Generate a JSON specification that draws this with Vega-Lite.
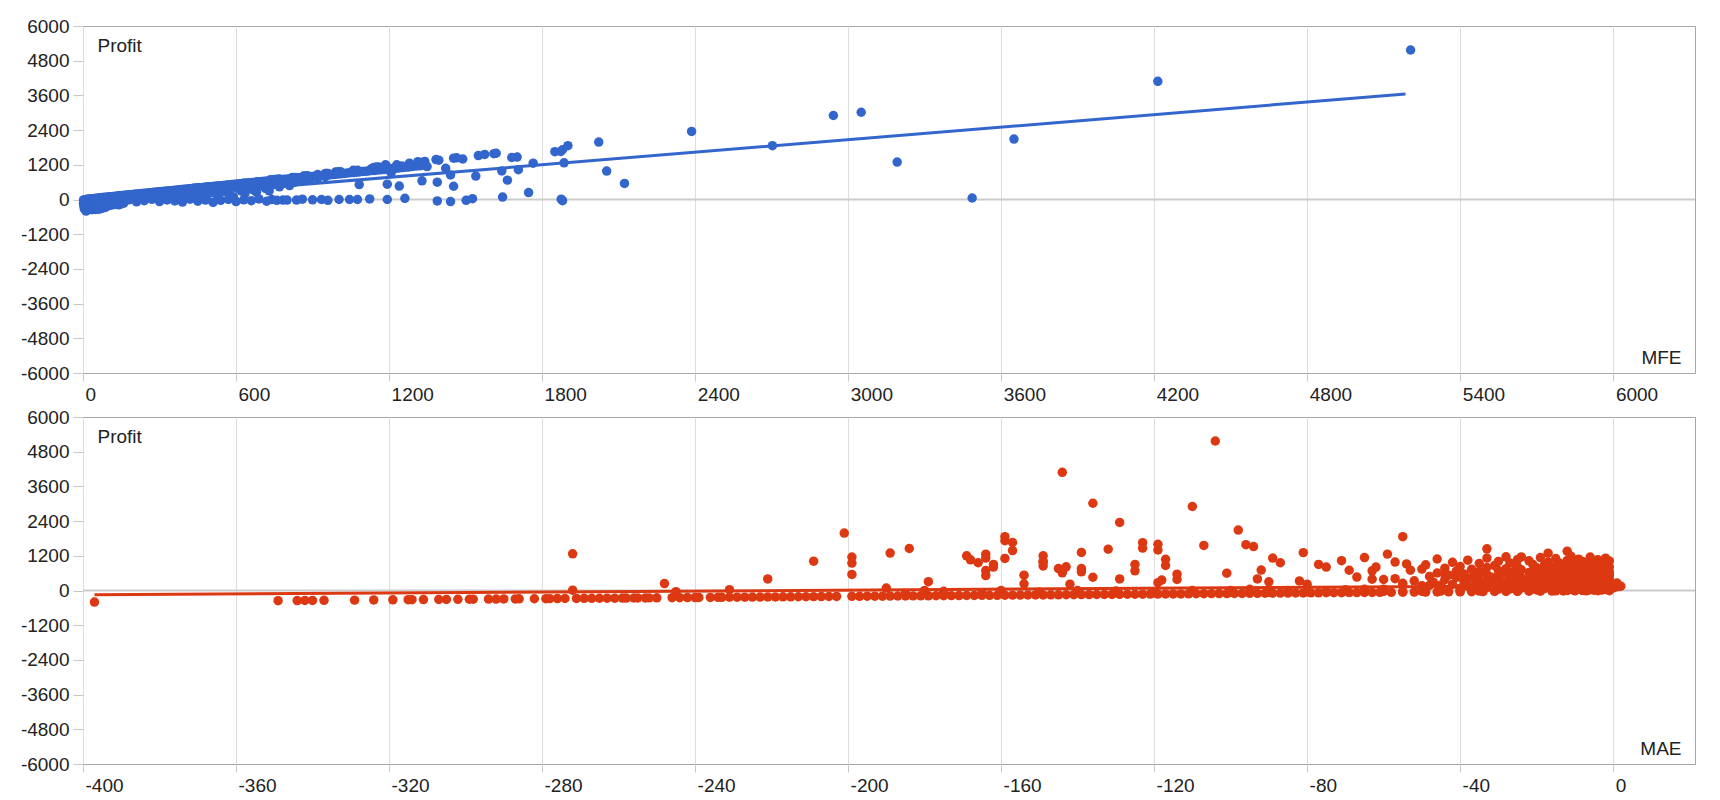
{
"$schema":"https://vega.github.io/schema/vega-lite/v6.json",
"background":"white",
"padding":{"left":19,"top":16,"right":12,"bottom":4},
"bounds":"flush",
"spacing":44,
"datasets":{
"trades":[
{"MFE":5205,"MAE":-104,"Profit":5170},{"MFE":4214,"MAE":-144,"Profit":4087},{"MFE":3051,"MAE":-136,"Profit":3018},{"MFE":2942,"MAE":-110,"Profit":2905},{"MFE":2386,"MAE":-129,"Profit":2355},{"MFE":3650,"MAE":-98,"Profit":2090},{"MFE":2022,"MAE":-201,"Profit":1985},{"MFE":1901,"MAE":-159,"Profit":1860},{"MFE":2703,"MAE":-55,"Profit":1860},{"MFE":1873,"MAE":-157,"Profit":1660},{"MFE":1620,"MAE":-119,"Profit":1600},{"MFE":1611,"MAE":-96,"Profit":1585},{"MFE":1550,"MAE":-94,"Profit":1520},{"MFE":1702,"MAE":-123,"Profit":1468},{"MFE":1681,"MAE":-184,"Profit":1452},{"MFE":1453,"MAE":-132,"Profit":1430},{"MFE":1384,"MAE":-157,"Profit":1380},{"MFE":1489,"MAE":-119,"Profit":1400},{"MFE":3192,"MAE":-189,"Profit":1295},{"MFE":1886,"MAE":-272,"Profit":1270},{"MFE":1313,"MAE":-81,"Profit":1310},{"MFE":1765,"MAE":-164,"Profit":1255},{"MFE":1280,"MAE":-59,"Profit":1258},{"MFE":1186,"MAE":-149,"Profit":1200},{"MFE":1349,"MAE":-65,"Profit":1140},{"MFE":1422,"MAE":-117,"Profit":1080},{"MFE":1130,"MAE":-168,"Profit":1060},{"MFE":1077,"MAE":-149,"Profit":1010},{"MFE":1060,"MAE":-209,"Profit":1015},{"MFE":1707,"MAE":-71,"Profit":1030},{"MFE":1642,"MAE":-149,"Profit":988},{"MFE":2053,"MAE":-57,"Profit":982},{"MFE":1208,"MAE":-54,"Profit":918},{"MFE":1441,"MAE":-149,"Profit":850},{"MFE":1540,"MAE":-162,"Profit":810},{"MFE":1664,"MAE":-144,"Profit":670},{"MFE":1329,"MAE":-139,"Profit":645},{"MFE":1389,"MAE":-101,"Profit":598},{"MFE":2123,"MAE":-199,"Profit":555},{"MFE":1193,"MAE":-154,"Profit":530},{"MFE":1083,"MAE":-164,"Profit":515},{"MFE":1240,"MAE":-67,"Profit":465},{"MFE":1453,"MAE":-136,"Profit":458},{"MFE":1747,"MAE":-248,"Profit":238},
{"MFE":1850,"MAE":-123,"Profit":1654},{"MFE":1880,"MAE":-159,"Profit":1720},{"MFE":1575,"MAE":-107,"Profit":1560},{"MFE":1340,"MAE":-139,"Profit":1315},{"MFE":1230,"MAE":-169,"Profit":1200},{"MFE":1190,"MAE":-199,"Profit":1155},{"MFE":1160,"MAE":-164,"Profit":1120},{"MFE":1150,"MAE":-89,"Profit":1120},{"MFE":1140,"MAE":-159,"Profit":1110},{"MFE":1000,"MAE":-87,"Profit":960},{"MFE":1010,"MAE":-166,"Profit":960},{"MFE":990,"MAE":-199,"Profit":950},{"MFE":960,"MAE":-162,"Profit":900},{"MFE":950,"MAE":-77,"Profit":900},{"MFE":955,"MAE":-125,"Profit":900},{"MFE":920,"MAE":-117,"Profit":865},{"MFE":880,"MAE":-143,"Profit":820},{"MFE":870,"MAE":-75,"Profit":810},{"MFE":865,"MAE":-62,"Profit":810},{"MFE":820,"MAE":-145,"Profit":760},{"MFE":830,"MAE":-139,"Profit":760},{"MFE":770,"MAE":-92,"Profit":705},{"MFE":760,"MAE":-69,"Profit":700},{"MFE":750,"MAE":-164,"Profit":690},{"MFE":740,"MAE":-125,"Profit":680},{"MFE":735,"MAE":-63,"Profit":680},{"MFE":680,"MAE":-144,"Profit":610},{"MFE":630,"MAE":-114,"Profit":565},{"MFE":460,"MAE":-129,"Profit":400},{"MFE":450,"MAE":-93,"Profit":400},{"MFE":470,"MAE":-221,"Profit":400},{"MFE":440,"MAE":-63,"Profit":390},{"MFE":430,"MAE":-114,"Profit":380},{"MFE":420,"MAE":-118,"Profit":360},{"MFE":380,"MAE":-82,"Profit":330},{"MFE":350,"MAE":-179,"Profit":305},{"MFE":320,"MAE":-119,"Profit":270},{"MFE":280,"MAE":-154,"Profit":230},{"MFE":270,"MAE":-142,"Profit":220},
{"MFE":1465,"MAE":-33,"Profit":1440},{"MFE":1330,"MAE":-17,"Profit":1290},{"MFE":1395,"MAE":-12,"Profit":1360},{"MFE":1250,"MAE":-24,"Profit":1160},
{"MFE":1875,"MAE":-272,"Profit":10},{"MFE":1880,"MAE":-245,"Profit":-40},{"MFE":1527,"MAE":-231,"Profit":30},{"MFE":1645,"MAE":-190,"Profit":85},{"MFE":1502,"MAE":-175,"Profit":-30},{"MFE":1441,"MAE":-150,"Profit":-70},{"MFE":1389,"MAE":-120,"Profit":-50},{"MFE":1262,"MAE":-95,"Profit":40},{"MFE":1193,"MAE":-180,"Profit":0},{"MFE":1124,"MAE":-60,"Profit":20},{"MFE":1076,"MAE":-140,"Profit":0},{"MFE":1045,"MAE":-110,"Profit":0},{"MFE":1004,"MAE":-85,"Profit":0},{"MFE":935,"MAE":-160,"Profit":0},{"MFE":900,"MAE":-45,"Profit":-10},{"MFE":837,"MAE":-130,"Profit":-20},{"MFE":784,"MAE":-70,"Profit":-20},{"MFE":740,"MAE":-100,"Profit":0},{"MFE":3486,"MAE":-35,"Profit":52},
{"MFE":120,"MAE":-40,"Profit":-30},{"MFE":150,"MAE":-90,"Profit":-60},{"MFE":180,"MAE":-15,"Profit":-10},{"MFE":210,"MAE":-120,"Profit":-80},{"MFE":240,"MAE":-55,"Profit":-40},{"MFE":270,"MAE":-8,"Profit":5},{"MFE":300,"MAE":-140,"Profit":-70},{"MFE":330,"MAE":-25,"Profit":-15},{"MFE":360,"MAE":-75,"Profit":-50},{"MFE":390,"MAE":-165,"Profit":-90},{"MFE":420,"MAE":-5,"Profit":10},{"MFE":450,"MAE":-100,"Profit":-60},{"MFE":480,"MAE":-35,"Profit":-20},{"MFE":510,"MAE":-185,"Profit":-100},{"MFE":540,"MAE":-60,"Profit":-30},{"MFE":570,"MAE":-12,"Profit":0},{"MFE":600,"MAE":-130,"Profit":-70},{"MFE":630,"MAE":-45,"Profit":-10},{"MFE":660,"MAE":-80,"Profit":-40},{"MFE":690,"MAE":-20,"Profit":20},{"MFE":720,"MAE":-150,"Profit":-60},{"MFE":760,"MAE":-50,"Profit":-30},{"MFE":800,"MAE":-110,"Profit":-20},{"MFE":860,"MAE":-28,"Profit":10},{"MFE":960,"MAE":-75,"Profit":-30},
{"MFE":12,"MAE":-397,"Profit":-400},{"MFE":35,"MAE":-349,"Profit":-352},{"MFE":20,"MAE":-344,"Profit":-348},{"MFE":48,"MAE":-342,"Profit":-345},{"MFE":8,"MAE":-340,"Profit":-343},{"MFE":60,"MAE":-337,"Profit":-341},{"MFE":25,"MAE":-329,"Profit":-333},{"MFE":15,"MAE":-324,"Profit":-327},{"MFE":40,"MAE":-319,"Profit":-322},{"MFE":70,"MAE":-315,"Profit":-318},{"MFE":5,"MAE":-314,"Profit":-317},{"MFE":30,"MAE":-311,"Profit":-314},{"MFE":55,"MAE":-307,"Profit":-311},{"MFE":18,"MAE":-305,"Profit":-308},{"MFE":42,"MAE":-302,"Profit":-305},{"MFE":10,"MAE":-299,"Profit":-302},{"MFE":65,"MAE":-298,"Profit":-301},{"MFE":28,"MAE":-294,"Profit":-297},{"MFE":50,"MAE":-292,"Profit":-296},{"MFE":14,"MAE":-290,"Profit":-293},{"MFE":36,"MAE":-287,"Profit":-290},{"MFE":80,"MAE":-286,"Profit":-289},{"MFE":22,"MAE":-282,"Profit":-285},{"MFE":45,"MAE":-279,"Profit":-282},{"MFE":9,"MAE":-278,"Profit":-281},{"MFE":58,"MAE":-276,"Profit":-279},{"MFE":33,"MAE":-274,"Profit":-277},{"MFE":16,"MAE":-271,"Profit":-274},{"MFE":75,"MAE":-269,"Profit":-272},{"MFE":27,"MAE":-267,"Profit":-270},{"MFE":44,"MAE":-265,"Profit":-268},{"MFE":6,"MAE":-263,"Profit":-266},{"MFE":52,"MAE":-261,"Profit":-264},{"MFE":38,"MAE":-259,"Profit":-262},{"MFE":90,"MAE":-258,"Profit":-261},{"MFE":19,"MAE":-256,"Profit":-259},{"MFE":63,"MAE":-255,"Profit":-258},{"MFE":31,"MAE":-253,"Profit":-256},{"MFE":11,"MAE":-252,"Profit":-255},{"MFE":47,"MAE":-250,"Profit":-253},{"MFE":24,"MAE":-246,"Profit":-249},{"MFE":68,"MAE":-244,"Profit":-247},{"MFE":37,"MAE":-242,"Profit":-245},{"MFE":13,"MAE":-240,"Profit":-243},{"MFE":56,"MAE":-239,"Profit":-242},{"MFE":29,"MAE":-236,"Profit":-239},{"MFE":85,"MAE":-234,"Profit":-237},{"MFE":41,"MAE":-233,"Profit":-236},{"MFE":7,"MAE":-231,"Profit":-234},{"MFE":50,"MAE":-229,"Profit":-232},{"MFE":23,"MAE":-227,"Profit":-230},{"MFE":72,"MAE":-225,"Profit":-228},{"MFE":34,"MAE":-223,"Profit":-226},{"MFE":17,"MAE":-221,"Profit":-224},{"MFE":61,"MAE":-219,"Profit":-222},{"MFE":26,"MAE":-217,"Profit":-220},{"MFE":95,"MAE":-215,"Profit":-218},{"MFE":39,"MAE":-213,"Profit":-216},{"MFE":4,"MAE":-211,"Profit":-214},{"MFE":53,"MAE":-209,"Profit":-212},{"MFE":21,"MAE":-207,"Profit":-210},{"MFE":78,"MAE":-205,"Profit":-208},{"MFE":32,"MAE":-203,"Profit":-206},
{"MFE":25,"MAE":-199,"Profit":-202},{"MFE":60,"MAE":-197,"Profit":-201},{"MFE":10,"MAE":-195,"Profit":-198},{"MFE":110,"MAE":-193,"Profit":-196},{"MFE":40,"MAE":-191,"Profit":-195},{"MFE":5,"MAE":-189,"Profit":-192},{"MFE":75,"MAE":-187,"Profit":-190},{"MFE":30,"MAE":-185,"Profit":-189},{"MFE":140,"MAE":-183,"Profit":-186},{"MFE":15,"MAE":-181,"Profit":-184},{"MFE":50,"MAE":-179,"Profit":-183},{"MFE":90,"MAE":-177,"Profit":-180},{"MFE":8,"MAE":-175,"Profit":-178},{"MFE":35,"MAE":-173,"Profit":-177},{"MFE":120,"MAE":-171,"Profit":-174},{"MFE":20,"MAE":-169,"Profit":-172},{"MFE":65,"MAE":-167,"Profit":-171},{"MFE":3,"MAE":-165,"Profit":-168},{"MFE":45,"MAE":-163,"Profit":-166},{"MFE":100,"MAE":-161,"Profit":-165},{"MFE":12,"MAE":-159,"Profit":-162},{"MFE":80,"MAE":-157,"Profit":-160},{"MFE":28,"MAE":-155,"Profit":-159},{"MFE":150,"MAE":-153,"Profit":-156},{"MFE":6,"MAE":-151,"Profit":-154},{"MFE":55,"MAE":-149,"Profit":-153},{"MFE":95,"MAE":-147,"Profit":-150},{"MFE":18,"MAE":-145,"Profit":-148},{"MFE":38,"MAE":-143,"Profit":-147},{"MFE":130,"MAE":-141,"Profit":-144},{"MFE":9,"MAE":-139,"Profit":-142},{"MFE":70,"MAE":-137,"Profit":-141},{"MFE":24,"MAE":-135,"Profit":-138},{"MFE":105,"MAE":-133,"Profit":-136},{"MFE":2,"MAE":-131,"Profit":-135},{"MFE":48,"MAE":-129,"Profit":-132},{"MFE":85,"MAE":-127,"Profit":-130},{"MFE":14,"MAE":-125,"Profit":-129},{"MFE":33,"MAE":-123,"Profit":-126},{"MFE":160,"MAE":-121,"Profit":-124},{"MFE":7,"MAE":-119,"Profit":-123},{"MFE":58,"MAE":-117,"Profit":-120},{"MFE":26,"MAE":-115,"Profit":-118},{"MFE":115,"MAE":-113,"Profit":-117},{"MFE":4,"MAE":-111,"Profit":-114},{"MFE":42,"MAE":-109,"Profit":-112},{"MFE":78,"MAE":-107,"Profit":-111},{"MFE":16,"MAE":-105,"Profit":-108},{"MFE":36,"MAE":-103,"Profit":-106},{"MFE":125,"MAE":-101,"Profit":-105},{"MFE":11,"MAE":-99,"Profit":-102},{"MFE":62,"MAE":-97,"Profit":-100},{"MFE":22,"MAE":-95,"Profit":-99},{"MFE":98,"MAE":-93,"Profit":-96},{"MFE":5,"MAE":-91,"Profit":-94},{"MFE":46,"MAE":-89,"Profit":-93},{"MFE":82,"MAE":-87,"Profit":-90},{"MFE":19,"MAE":-85,"Profit":-88},{"MFE":31,"MAE":-83,"Profit":-87},{"MFE":135,"MAE":-81,"Profit":-84},{"MFE":8,"MAE":-79,"Profit":-82},{"MFE":52,"MAE":-77,"Profit":-81},{"MFE":27,"MAE":-75,"Profit":-78},{"MFE":108,"MAE":-73,"Profit":-76},{"MFE":3,"MAE":-71,"Profit":-75},{"MFE":40,"MAE":-69,"Profit":-72},{"MFE":72,"MAE":-67,"Profit":-70},{"MFE":13,"MAE":-65,"Profit":-69},{"MFE":29,"MAE":-63,"Profit":-66},{"MFE":118,"MAE":-61,"Profit":-64},{"MFE":6,"MAE":-58,"Profit":-62},{"MFE":44,"MAE":-55,"Profit":-58},{"MFE":21,"MAE":-52,"Profit":-55},{"MFE":88,"MAE":-49,"Profit":-53},{"MFE":10,"MAE":-46,"Profit":-49},{"MFE":37,"MAE":-43,"Profit":-46},{"MFE":64,"MAE":-40,"Profit":-44},{"MFE":17,"MAE":-37,"Profit":-40},{"MFE":26,"MAE":-34,"Profit":-37},{"MFE":92,"MAE":-31,"Profit":-35},{"MFE":4,"MAE":-28,"Profit":-31},{"MFE":33,"MAE":-25,"Profit":-28},{"MFE":50,"MAE":-22,"Profit":-26},{"MFE":12,"MAE":-19,"Profit":-22},{"MFE":23,"MAE":-16,"Profit":-19},{"MFE":70,"MAE":-13,"Profit":-17},{"MFE":2,"MAE":-10,"Profit":-13},{"MFE":15,"MAE":-7,"Profit":-10},{"MFE":40,"MAE":-4,"Profit":-8},{"MFE":8,"MAE":-1,"Profit":-5},
{"MFE":150,"MAE":1,"Profit":130},{"MFE":200,"MAE":2,"Profit":150},{"MFE":300,"MAE":1,"Profit":260},{"MFE":120,"MAE":0,"Profit":90},
{"MFE":15,"MAE":-8,"Profit":5},{"MFE":22,"MAE":-3,"Profit":14},{"MFE":28,"MAE":-15,"Profit":20},{"MFE":34,"MAE":-6,"Profit":26},{"MFE":40,"MAE":-22,"Profit":30},{"MFE":46,"MAE":-2,"Profit":38},{"MFE":52,"MAE":-11,"Profit":42},{"MFE":58,"MAE":-30,"Profit":47},{"MFE":64,"MAE":-5,"Profit":55},{"MFE":70,"MAE":-18,"Profit":60},{"MFE":76,"MAE":-1,"Profit":66},{"MFE":82,"MAE":-26,"Profit":70},{"MFE":88,"MAE":-9,"Profit":78},{"MFE":94,"MAE":-40,"Profit":80},{"MFE":100,"MAE":-4,"Profit":88},{"MFE":106,"MAE":-14,"Profit":92},{"MFE":112,"MAE":-33,"Profit":98},{"MFE":118,"MAE":-7,"Profit":104},{"MFE":124,"MAE":-20,"Profit":108},{"MFE":130,"MAE":-2,"Profit":116},{"MFE":136,"MAE":-45,"Profit":118},{"MFE":142,"MAE":-12,"Profit":126},{"MFE":148,"MAE":-27,"Profit":130},{"MFE":154,"MAE":-6,"Profit":137},{"MFE":160,"MAE":-17,"Profit":140},{"MFE":166,"MAE":-38,"Profit":146},{"MFE":172,"MAE":-3,"Profit":153},{"MFE":178,"MAE":-24,"Profit":156},{"MFE":184,"MAE":-10,"Profit":163},{"MFE":190,"MAE":-50,"Profit":166},{"MFE":196,"MAE":-1,"Profit":175},{"MFE":202,"MAE":-29,"Profit":178},{"MFE":208,"MAE":-13,"Profit":184},{"MFE":214,"MAE":-6,"Profit":190},{"MFE":220,"MAE":-36,"Profit":193},{"MFE":226,"MAE":-19,"Profit":200},{"MFE":232,"MAE":-4,"Profit":206},{"MFE":238,"MAE":-42,"Profit":209},{"MFE":244,"MAE":-11,"Profit":216},{"MFE":250,"MAE":-25,"Profit":220},{"MFE":256,"MAE":-2,"Profit":228},{"MFE":262,"MAE":-16,"Profit":231},{"MFE":268,"MAE":-34,"Profit":236},{"MFE":274,"MAE":-8,"Profit":243},{"MFE":280,"MAE":-21,"Profit":247},{"MFE":286,"MAE":-55,"Profit":250},{"MFE":292,"MAE":-5,"Profit":259},{"MFE":298,"MAE":-14,"Profit":262},{"MFE":304,"MAE":-31,"Profit":268},{"MFE":310,"MAE":-3,"Profit":275},{"MFE":316,"MAE":-23,"Profit":278},{"MFE":322,"MAE":-9,"Profit":285},{"MFE":328,"MAE":-47,"Profit":288},{"MFE":334,"MAE":-18,"Profit":295},{"MFE":340,"MAE":-1,"Profit":302},{"MFE":346,"MAE":-28,"Profit":305},{"MFE":352,"MAE":-12,"Profit":311},{"MFE":358,"MAE":-39,"Profit":315},{"MFE":364,"MAE":-4,"Profit":322},{"MFE":370,"MAE":-20,"Profit":326},{"MFE":376,"MAE":-7,"Profit":333},{"MFE":382,"MAE":-52,"Profit":336},{"MFE":388,"MAE":-15,"Profit":343},{"MFE":394,"MAE":-2,"Profit":349},{"MFE":400,"MAE":-26,"Profit":352},{"MFE":406,"MAE":-10,"Profit":359},{"MFE":412,"MAE":-35,"Profit":363},{"MFE":418,"MAE":-5,"Profit":370},{"MFE":424,"MAE":-17,"Profit":374},{"MFE":430,"MAE":-44,"Profit":378},{"MFE":436,"MAE":-8,"Profit":386},{"MFE":442,"MAE":-22,"Profit":389},{"MFE":448,"MAE":-3,"Profit":397},{"MFE":454,"MAE":-30,"Profit":400},{"MFE":460,"MAE":-13,"Profit":406},{"MFE":466,"MAE":-57,"Profit":409},{"MFE":472,"MAE":-6,"Profit":418},{"MFE":478,"MAE":-19,"Profit":421},{"MFE":484,"MAE":-1,"Profit":429},{"MFE":490,"MAE":-37,"Profit":431},{"MFE":496,"MAE":-11,"Profit":438},{"MFE":502,"MAE":-24,"Profit":442},{"MFE":508,"MAE":-4,"Profit":450},{"MFE":514,"MAE":-41,"Profit":452},{"MFE":520,"MAE":-15,"Profit":459},{"MFE":526,"MAE":-7,"Profit":466},{"MFE":532,"MAE":-32,"Profit":468},{"MFE":538,"MAE":-2,"Profit":476},{"MFE":544,"MAE":-21,"Profit":479},{"MFE":550,"MAE":-10,"Profit":486},{"MFE":556,"MAE":-48,"Profit":488},{"MFE":562,"MAE":-5,"Profit":497},{"MFE":568,"MAE":-27,"Profit":500},{"MFE":574,"MAE":-14,"Profit":506},{"MFE":580,"MAE":-3,"Profit":514},{"MFE":586,"MAE":-36,"Profit":516},{"MFE":592,"MAE":-18,"Profit":522},{"MFE":598,"MAE":-8,"Profit":530},{"MFE":604,"MAE":-43,"Profit":531},{"MFE":610,"MAE":-1,"Profit":540},{"MFE":616,"MAE":-25,"Profit":543},{"MFE":622,"MAE":-12,"Profit":549},{"MFE":628,"MAE":-33,"Profit":553},{"MFE":634,"MAE":-6,"Profit":561},{"MFE":640,"MAE":-20,"Profit":564},{"MFE":646,"MAE":-2,"Profit":572},{"MFE":652,"MAE":-39,"Profit":574},{"MFE":658,"MAE":-16,"Profit":580},{"MFE":664,"MAE":-9,"Profit":587},{"MFE":672,"MAE":-29,"Profit":592},{"MFE":680,"MAE":-4,"Profit":601},{"MFE":688,"MAE":-46,"Profit":605},{"MFE":696,"MAE":-13,"Profit":614},{"MFE":704,"MAE":-22,"Profit":620},{"MFE":712,"MAE":-7,"Profit":629},{"MFE":720,"MAE":-34,"Profit":633},{"MFE":728,"MAE":-1,"Profit":643},{"MFE":736,"MAE":-17,"Profit":648},{"MFE":744,"MAE":-26,"Profit":655},{"MFE":752,"MAE":-10,"Profit":664},{"MFE":760,"MAE":-41,"Profit":668},{"MFE":768,"MAE":-3,"Profit":678},{"MFE":776,"MAE":-19,"Profit":683},{"MFE":784,"MAE":-30,"Profit":690},{"MFE":792,"MAE":-8,"Profit":699},{"MFE":800,"MAE":-53,"Profit":702},{"MFE":808,"MAE":-14,"Profit":712},{"MFE":816,"MAE":-24,"Profit":718},{"MFE":824,"MAE":-5,"Profit":728},{"MFE":832,"MAE":-37,"Profit":731},{"MFE":840,"MAE":-11,"Profit":741},{"MFE":848,"MAE":-2,"Profit":750},{"MFE":856,"MAE":-28,"Profit":753},{"MFE":864,"MAE":-16,"Profit":762},{"MFE":872,"MAE":-7,"Profit":771},{"MFE":880,"MAE":-44,"Profit":773},{"MFE":888,"MAE":-20,"Profit":783},{"MFE":896,"MAE":-4,"Profit":792},{"MFE":904,"MAE":-33,"Profit":795},{"MFE":912,"MAE":-12,"Profit":805},{"MFE":920,"MAE":-1,"Profit":814},{"MFE":930,"MAE":-25,"Profit":818},{"MFE":940,"MAE":-9,"Profit":830},{"MFE":950,"MAE":-40,"Profit":834},{"MFE":960,"MAE":-15,"Profit":846},{"MFE":970,"MAE":-3,"Profit":857},{"MFE":980,"MAE":-31,"Profit":861},{"MFE":990,"MAE":-18,"Profit":872},{"MFE":1000,"MAE":-6,"Profit":884},{"MFE":1012,"MAE":-49,"Profit":888},{"MFE":1024,"MAE":-21,"Profit":902},{"MFE":1036,"MAE":-10,"Profit":914},{"MFE":1048,"MAE":-2,"Profit":927},{"MFE":1060,"MAE":-35,"Profit":932},{"MFE":1072,"MAE":-14,"Profit":945},{"MFE":1084,"MAE":-27,"Profit":954},{"MFE":1096,"MAE":-5,"Profit":968},{"MFE":1108,"MAE":-42,"Profit":973},{"MFE":1120,"MAE":-17,"Profit":986},{"MFE":1132,"MAE":-8,"Profit":999},{"MFE":1144,"MAE":-30,"Profit":1006},{"MFE":1156,"MAE":-1,"Profit":1022},{"MFE":1168,"MAE":-22,"Profit":1028},{"MFE":1180,"MAE":-12,"Profit":1041},{"MFE":1192,"MAE":-38,"Profit":1048},{"MFE":1204,"MAE":-4,"Profit":1064},{"MFE":1216,"MAE":-25,"Profit":1070},{"MFE":1228,"MAE":-9,"Profit":1084},{"MFE":1240,"MAE":-46,"Profit":1090},{"MFE":1252,"MAE":-15,"Profit":1104},{"MFE":1264,"MAE":-2,"Profit":1118},{"MFE":1276,"MAE":-33,"Profit":1122},{"MFE":1290,"MAE":-19,"Profit":1138},{"MFE":1305,"MAE":-6,"Profit":1155},{"MFE":1320,"MAE":-28,"Profit":1166},{"MFE":1335,"MAE":-11,"Profit":1182},
{"MFE":60,"MAE":-12,"Profit":20},{"MFE":80,"MAE":-35,"Profit":35},{"MFE":95,"MAE":-8,"Profit":10},{"MFE":110,"MAE":-20,"Profit":50},{"MFE":125,"MAE":-50,"Profit":30},{"MFE":140,"MAE":-5,"Profit":70},{"MFE":155,"MAE":-28,"Profit":15},{"MFE":170,"MAE":-14,"Profit":90},{"MFE":185,"MAE":-60,"Profit":45},{"MFE":200,"MAE":-3,"Profit":110},{"MFE":215,"MAE":-22,"Profit":60},{"MFE":230,"MAE":-40,"Profit":20},{"MFE":245,"MAE":-9,"Profit":140},{"MFE":260,"MAE":-18,"Profit":90},{"MFE":275,"MAE":-65,"Profit":40},{"MFE":290,"MAE":-6,"Profit":170},{"MFE":305,"MAE":-30,"Profit":110},{"MFE":320,"MAE":-12,"Profit":60},{"MFE":335,"MAE":-45,"Profit":190},{"MFE":350,"MAE":-2,"Profit":140},{"MFE":365,"MAE":-24,"Profit":80},{"MFE":380,"MAE":-70,"Profit":30},{"MFE":395,"MAE":-10,"Profit":230},{"MFE":410,"MAE":-36,"Profit":160},{"MFE":425,"MAE":-4,"Profit":100},{"MFE":440,"MAE":-19,"Profit":260},{"MFE":455,"MAE":-55,"Profit":190},{"MFE":470,"MAE":-8,"Profit":120},{"MFE":485,"MAE":-27,"Profit":50},{"MFE":500,"MAE":-14,"Profit":300},{"MFE":515,"MAE":-80,"Profit":220},{"MFE":530,"MAE":-3,"Profit":150},{"MFE":545,"MAE":-33,"Profit":330},{"MFE":560,"MAE":-16,"Profit":260},{"MFE":575,"MAE":-48,"Profit":180},{"MFE":590,"MAE":-7,"Profit":90},{"MFE":605,"MAE":-22,"Profit":380},{"MFE":620,"MAE":-90,"Profit":300},{"MFE":635,"MAE":-11,"Profit":200},{"MFE":650,"MAE":-38,"Profit":420},{"MFE":665,"MAE":-5,"Profit":340},{"MFE":680,"MAE":-26,"Profit":250},{"MFE":700,"MAE":-17,"Profit":470},{"MFE":715,"MAE":-60,"Profit":380},{"MFE":730,"MAE":-2,"Profit":300},{"MFE":750,"MAE":-30,"Profit":520},{"MFE":770,"MAE":-13,"Profit":440},{"MFE":790,"MAE":-44,"Profit":560},{"MFE":810,"MAE":-8,"Profit":480},{"MFE":830,"MAE":-21,"Profit":600},{"MFE":860,"MAE":-35,"Profit":650},{"MFE":890,"MAE":-12,"Profit":700},{"MFE":920,"MAE":-50,"Profit":740},{"MFE":950,"MAE":-6,"Profit":790}
],
"trendMFE":[{"MFE":0,"Profit":-100},{"MFE":5185,"Profit":3650}],
"trendMAE":[{"MAE":-397,"Profit":-150},{"MAE":2,"Profit":180}]
},
"vconcat":[
{
"width":1612,"height":347,
"layer":[
{"data":{"values":[{}]},"mark":{"type":"rule","color":"#cccccc","strokeWidth":2},"encoding":{"y":{"datum":0,"type":"quantitative","axis":{"title":"Profit","values":[-6000,-4800,-3600,-2400,-1200,0,1200,2400,3600,4800,6000],"labelOverlap":false,"tickCount":11}}}},
{"data":{"name":"trades"},"mark":{"type":"circle","size":90,"opacity":1,"color":"#3366cc"},
"encoding":{
"x":{"field":"MFE","type":"quantitative","scale":{"domain":[0,6320],"nice":false,"zero":false},"axis":{"title":"MFE","values":[0,600,1200,1800,2400,3000,3600,4200,4800,5400,6000],"labelOverlap":false}},
"y":{"field":"Profit","type":"quantitative","scale":{"domain":[-6000,6000],"nice":false},"axis":{"title":"Profit","values":[-6000,-4800,-3600,-2400,-1200,0,1200,2400,3600,4800,6000],"labelOverlap":false,"tickCount":11}}}},
{"data":{"name":"trendMFE"},"mark":{"type":"line","color":"#3366cc","strokeWidth":3},"encoding":{"x":{"field":"MFE","type":"quantitative"},"y":{"field":"Profit","type":"quantitative"}}}
]
},
{
"width":1612,"height":347,
"layer":[
{"data":{"values":[{}]},"mark":{"type":"rule","color":"#cccccc","strokeWidth":2},"encoding":{"y":{"datum":0,"type":"quantitative","axis":{"title":"Profit","values":[-6000,-4800,-3600,-2400,-1200,0,1200,2400,3600,4800,6000],"labelOverlap":false,"tickCount":11}}}},
{"data":{"name":"trendMAE"},"mark":{"type":"line","color":"#dc3912","strokeWidth":3},"encoding":{"x":{"field":"MAE","type":"quantitative"},"y":{"field":"Profit","type":"quantitative"}}},
{"data":{"name":"trades"},"mark":{"type":"circle","size":90,"opacity":1,"color":"#dc3912"},
"encoding":{
"x":{"field":"MAE","type":"quantitative","scale":{"domain":[-400,21.4],"nice":false,"zero":false},"axis":{"title":"MAE","values":[-400,-360,-320,-280,-240,-200,-160,-120,-80,-40,0],"labelOverlap":false}},
"y":{"field":"Profit","type":"quantitative","scale":{"domain":[-6000,6000],"nice":false},"axis":{"title":"Profit","values":[-6000,-4800,-3600,-2400,-1200,0,1200,2400,3600,4800,6000],"labelOverlap":false,"tickCount":11}}}}
]
}
],
"config":{
"view":{"stroke":"#a6a6a6","strokeWidth":1},
"axis":{"labelFont":"Liberation Sans","labelFontSize":19,"labelColor":"#222222","titleFont":"Liberation Sans","titleFontSize":19,"titleFontWeight":"normal","titleColor":"#222222","gridColor":"#dddddd","gridWidth":1,"domain":false,"tickColor":"#c8c8c8","tickSize":10,"labelOverlap":false,"labelBound":false,"labelFlush":false,"labelExpr":"'' + datum.value"},
"axisX":{"labelAlign":"left","labelBaseline":"top","labelPadding":4,"tickSize":8,"labelOffset":2,"titleAlign":"right","titleBaseline":"alphabetic","titleY":-10,"titleX":1598},
"axisY":{"labelPadding":4,"titleAngle":0,"titleAlign":"left","titleBaseline":"alphabetic","titleX":14,"titleY":25}
}
}
